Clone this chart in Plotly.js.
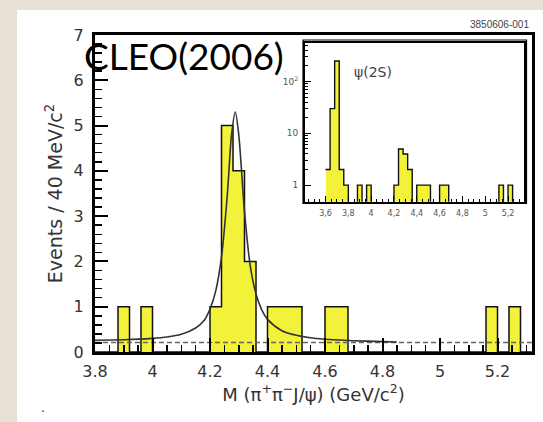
<!DOCTYPE html>
<html>
<head>
<meta charset="utf-8">
<script src="https://cdn.plot.ly/plotly-3.0.1.min.js"></script>
<style>html,body{margin:0;padding:0;background:#e8e1d5;}</style>
</head>
<body>
<div id="chart" style="width:543px;height:422px;"></div>
<script>
// ---------- data ----------
// main histogram: 40 MeV bins starting at 3.80 GeV
const binStart = 3.80;
const binWidth = 0.04;
const mainCounts = [0,0,1,0,1,0,0,0,0,0,1,5,4,2,0,1,1,1,0,0,1,1,0,0,0,0,0,0,0,0,0,0,0,0,1,0,1,0];
// inset histogram (log scale), bins starting at 3.60 GeV
const insetStart = 3.60;
const insetCounts = [2,30,250,2,1,0,0,1,0,1,0,0,0,0,0,1,5,4,2,0,1,1,1,0,0,1,1,0,0,0,0,0,0,0,0,0,0,0,1,0,1,0];
// fitted curve
const fitX = [3.80,3.90,4.00,4.05,4.10,4.15,4.18,4.20,4.22,4.24,4.26,4.275,4.288,4.30,4.32,4.34,4.36,4.38,4.40,4.45,4.50,4.60,4.70,4.80,4.85];
const fitY = [0.26,0.27,0.30,0.33,0.39,0.53,0.70,0.95,1.35,2.10,3.45,4.80,5.30,4.80,3.10,1.90,1.28,0.93,0.72,0.47,0.37,0.28,0.25,0.23,0.22];
// flat background level (dashed)
const bgX = [3.80, 5.32];
const bgY = [0.21, 0.21];
// axis ranges and tick labels
const mainXRange = [3.80, 5.32];
const mainYRange = [0, 7];
const insetXRange = [3.42, 5.34];
const insetYRange = [-0.32, 2.75]; // log10
const insetTickVals = [3.6,3.8,4.0,4.2,4.4,4.6,4.8,5.0,5.2];
const insetTickText = ["3,6","3,8","4","4,2","4,4","4,6","4,8","5","5,2"];
const insetYTickVals = [1,10,100];
const insetYTickText = ["1","10","10<sup>2</sup>"];

// ---------- helpers ----------
function centers(start, n){ const c=[]; for(let i=0;i<n;i++) c.push(+(start+binWidth*(i+0.5)).toFixed(3)); return c; }
function edges(start, n){ const e=[]; for(let i=0;i<=n;i++) e.push(+(start+binWidth*i).toFixed(3)); return e; }
function stepY(counts, floor){ const y=counts.map(v=> v>0? v : floor); y.push(floor); return y; }

const W=543, H=422;
const M = {l:95, r:11, t:35, b:70};
const pw = W-M.l-M.r, ph = H-M.t-M.b;
const px = v => (v-M.l)/pw;
const py = v => (H-M.b-v)/ph;

const yellow = '#f3f23a';
const font = 'DejaVu Sans, Arial, sans-serif';

const mainC = centers(binStart, mainCounts.length);
const insC = centers(insetStart, insetCounts.length);

const minorLog = [];
[1,10,100].forEach(d=>{ for(let k=2;k<=9;k++) minorLog.push(d*k); });

const traces = [
  {type:'bar', x:mainC, y:mainCounts, width:binWidth, marker:{color:yellow, line:{width:0}}, xaxis:'x', yaxis:'y', hoverinfo:'skip'},
  {type:'scatter', mode:'lines', x:edges(binStart, mainCounts.length), y:stepY(mainCounts,0), line:{shape:'hv', color:'#111', width:1.5}, xaxis:'x', yaxis:'y'},
  {type:'scatter', mode:'lines', x:bgX, y:bgY, line:{color:'#666', width:1.5, dash:'5px,3px'}, xaxis:'x', yaxis:'y'},
  {type:'scatter', mode:'lines', x:fitX, y:fitY, line:{shape:'spline', smoothing:0.8, color:'#333', width:1.6}, xaxis:'x', yaxis:'y'},
  {type:'bar', x:insC, y:insetCounts.map(v=> v>0? v : null), width:binWidth, marker:{color:yellow, line:{width:0}}, xaxis:'x2', yaxis:'y2', hoverinfo:'skip'},
  {type:'scatter', mode:'lines', x:edges(insetStart, insetCounts.length), y:stepY(insetCounts,0.05), line:{shape:'hv', color:'#111', width:1.4}, xaxis:'x2', yaxis:'y2'}
];

const layout = {
  width:W, height:H, margin:M, showlegend:false,
  paper_bgcolor:'#e8e1d5', plot_bgcolor:'#ffffff', bargap:0,
  font:{family:font, color:'#333'},
  xaxis:{
    domain:[0,1], range:mainXRange, showline:true, linecolor:'#000', linewidth:3, mirror:true,
    ticks:'inside', ticklen:14, tickwidth:2, tickcolor:'#000', tick0:3.8, dtick:0.2,
    minor:{ticks:'inside', ticklen:7, tickwidth:1.5, tickcolor:'#000', tick0:3.8, dtick:0.05, showgrid:false},
    showgrid:false, zeroline:false, ticklabelstandoff:3,
    tickfont:{family:font, size:16, color:'#333'},
    title:{text:'M (π<sup>+</sup>π<sup>−</sup>J/ψ) (GeV/c<sup>2</sup>)', font:{family:font, size:18, color:'#333'}, standoff:6}
  },
  yaxis:{
    domain:[0,1], range:mainYRange, showline:true, linecolor:'#000', linewidth:3, mirror:true,
    ticks:'inside', ticklen:13, tickwidth:2, tickcolor:'#000', dtick:1,
    minor:{ticks:'inside', ticklen:7, tickwidth:1.5, tickcolor:'#000', dtick:0.2, showgrid:false},
    showgrid:false, zeroline:false, ticklabelstandoff:5,
    tickfont:{family:font, size:16, color:'#333'},
    title:{text:'Events / 40 MeV/c<sup>2</sup>', font:{family:font, size:19, color:'#333'}, standoff:6}
  },
  xaxis2:{
    domain:[px(305), px(524)], anchor:'y2', range:insetXRange,
    showline:true, linecolor:'#000', linewidth:2, mirror:true,
    tickmode:'array', tickvals:insetTickVals, ticktext:insetTickText,
    ticks:'inside', ticklen:6, tickwidth:1, tickcolor:'#000',
    minor:{ticks:'inside', ticklen:3, tickwidth:1, tickcolor:'#000', tick0:3.4, dtick:0.05, showgrid:false},
    showgrid:false, zeroline:false, ticklabelstandoff:3,
    tickfont:{family:font, size:8, color:'#555'}
  },
  yaxis2:{
    domain:[py(201.7), py(42.7)], anchor:'x2', type:'log', range:insetYRange,
    showline:true, linecolor:'#000', linewidth:2, mirror:true,
    tickmode:'array', tickvals:insetYTickVals, ticktext:insetYTickText,
    ticks:'inside', ticklen:6, tickwidth:1, tickcolor:'#000',
    minor:{ticks:'inside', ticklen:3, tickwidth:1, tickcolor:'#000', tickmode:'array', tickvals:minorLog, showgrid:false},
    showgrid:false, zeroline:false, ticklabelstandoff:3,
    tickfont:{family:font, size:9, color:'#555'}
  },
  shapes:[
    {type:'rect', xref:'paper', yref:'paper', x0:px(17), x1:px(543), y0:py(422), y1:py(10), fillcolor:'#ffffff', line:{width:0}, layer:'below'},
    {type:'rect', xref:'paper', yref:'paper', x0:px(303), x1:px(526.5), y0:py(203.5), y1:py(40), fillcolor:'rgba(0,0,0,0)', line:{color:'#000', width:1.2}, layer:'above'}
  ],
  annotations:[
    {text:'CLEO(2006)', xref:'paper', yref:'paper', x:px(82), y:py(55), xanchor:'left', yanchor:'middle', showarrow:false, font:{family:'Lato, sans-serif', size:37, color:'#000'}},
    {text:'3850606-001', xref:'paper', yref:'paper', x:px(531), y:py(24), xanchor:'right', yanchor:'middle', showarrow:false, font:{family:'Liberation Sans, Arial, sans-serif', size:10, color:'#444'}},
    {text:'ψ(2S)', xref:'paper', yref:'paper', x:px(372.5), y:py(71.7), xanchor:'center', yanchor:'middle', showarrow:false, font:{family:font, size:14, color:'#444'}},
    {text:'.', xref:'paper', yref:'paper', x:px(43), y:py(408), xanchor:'center', yanchor:'middle', showarrow:false, font:{family:font, size:12, color:'#222'}}
  ]
};

Plotly.newPlot('chart', traces, layout, {staticPlot:true, displayModeBar:false});
</script>
</body>
</html>
